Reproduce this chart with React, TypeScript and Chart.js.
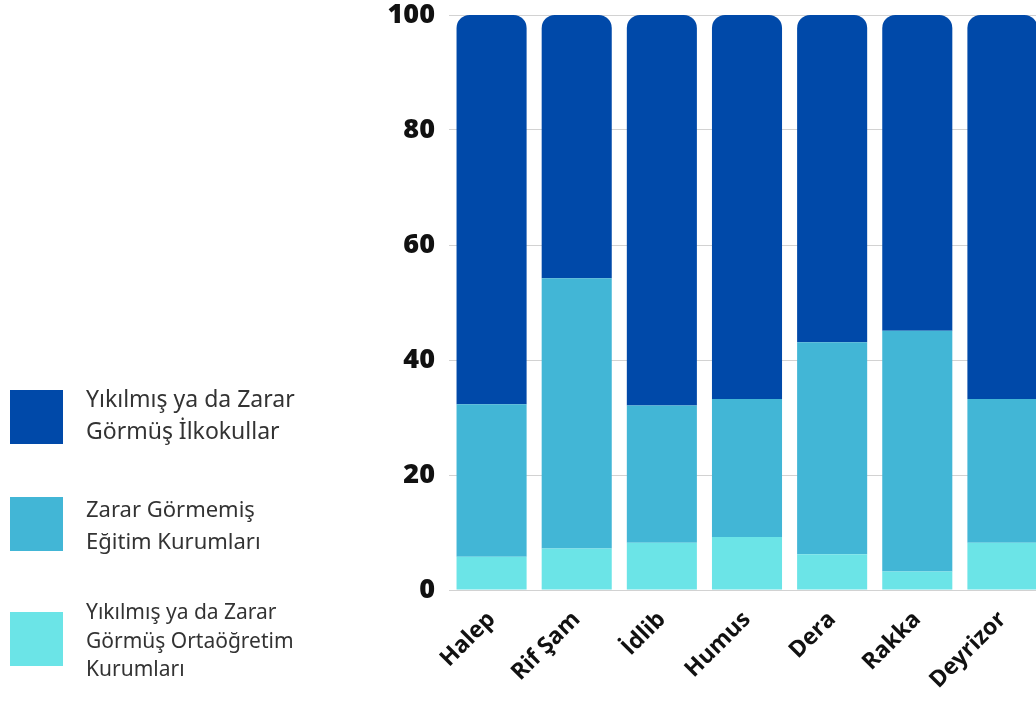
import React, { useEffect, useRef } from "react";
import { Chart, registerables } from "chart.js";

Chart.register(...registerables);

const categories = ["Halep", "Rif Şam", "İdlib", "Humus", "Dera", "Rakka", "Deyrizor"];
const secondaryDamaged = [5.8, 7.2, 8.2, 9.2, 6.2, 3.2, 8.2];
const undamaged = [26.5, 47.0, 23.9, 24.0, 36.9, 41.9, 25.0];
const primaryDamaged = [67.7, 45.8, 67.9, 66.8, 56.9, 54.9, 66.8];
const yTicks = [0, 20, 40, 60, 80, 100];

const seriesLabels = [
  ["Yıkılmış ya da Zarar", "Görmüş İlkokullar"],
  ["Zarar Görmemiş", "Eğitim Kurumları"],
  ["Yıkılmış ya da Zarar", "Görmüş Ortaöğretim", "Kurumları"],
];
const colors = ["#0049A9", "#42B6D6", "#6BE4E7"];

export default function App() {
  const ref = useRef<HTMLCanvasElement | null>(null);
  useEffect(() => {
    if (!ref.current) return;
    const chart = new Chart(ref.current, {
      type: "bar",
      data: {
        labels: categories,
        datasets: [
          {
            label: seriesLabels[2].join(" "),
            data: secondaryDamaged,
            backgroundColor: colors[2],
            borderWidth: 0,
          },
          {
            label: seriesLabels[1].join(" "),
            data: undamaged,
            backgroundColor: colors[1],
            borderWidth: 0,
          },
          {
            label: seriesLabels[0].join(" "),
            data: primaryDamaged,
            backgroundColor: colors[0],
            borderWidth: 0,
            borderRadius: { topLeft: 13, topRight: 13, bottomLeft: 0, bottomRight: 0 },
          },
        ],
      },
      options: {
        responsive: false,
        animation: false,
        layout: { padding: { top: 0, right: 5, left: 0, bottom: 0 } },
        datasets: { bar: { barPercentage: 0.823, categoryPercentage: 1 } },
        plugins: { legend: { display: false }, tooltip: { enabled: false } },
        scales: {
          x: {
            stacked: true,
            grid: { display: false },
            border: { display: false },
            ticks: {
              minRotation: 45,
              maxRotation: 45,
              autoSkip: false,
              padding: 8,
              color: "#111",
              font: { family: "'Open Sans', sans-serif", size: 23, weight: "bold" },
            },
            afterFit: (axis: any) => {
              axis.height = 111;
            },
          },
          y: {
            stacked: true,
            min: 0,
            max: 100,
            afterBuildTicks: (axis: any) => {
              axis.ticks = yTicks.map((v) => ({ value: v }));
            },
            grid: { color: "#d2d2d2", lineWidth: 1, drawTicks: false },
            border: { display: false },
            ticks: {
              padding: 14,
              color: "#111",
              font: { family: "'Open Sans', sans-serif", size: 27, weight: "800" },
            },
            afterFit: (axis: any) => {
              axis.width = 449;
              axis.paddingTop = 15;
            },
          },
        },
      },
    });
    return () => chart.destroy();
  }, []);

  const legendTops = [382, 492, 597];
  const legendSizes = [23, 22, 21];
  const legendLineHeights = [32, 32, 28.5];
  const squareTops = [390, 497, 612];

  return (
    <div
      style={{
        position: "fixed",
        left: 0,
        top: 0,
        width: 1036,
        height: 701,
        overflow: "hidden",
        background: "#fff",
      }}
    >
      <canvas ref={ref} width={1050} height={701} style={{ position: "absolute", left: 0, top: 0 }} />
      {seriesLabels.map((lines, i) => (
        <React.Fragment key={i}>
          <div
            style={{
              position: "absolute",
              left: 10,
              top: squareTops[i],
              width: 53,
              height: 54,
              background: colors[i],
            }}
          />
          <div
            style={{
              position: "absolute",
              left: 86,
              top: legendTops[i],
              fontFamily: "'Noto Sans', sans-serif",
              fontSize: legendSizes[i],
              lineHeight: legendLineHeights[i] + "px",
              color: "#333",
              whiteSpace: "nowrap",
            }}
          >
            {lines.map((l, j) => (
              <div key={j}>{l}</div>
            ))}
          </div>
        </React.Fragment>
      ))}
    </div>
  );
}
